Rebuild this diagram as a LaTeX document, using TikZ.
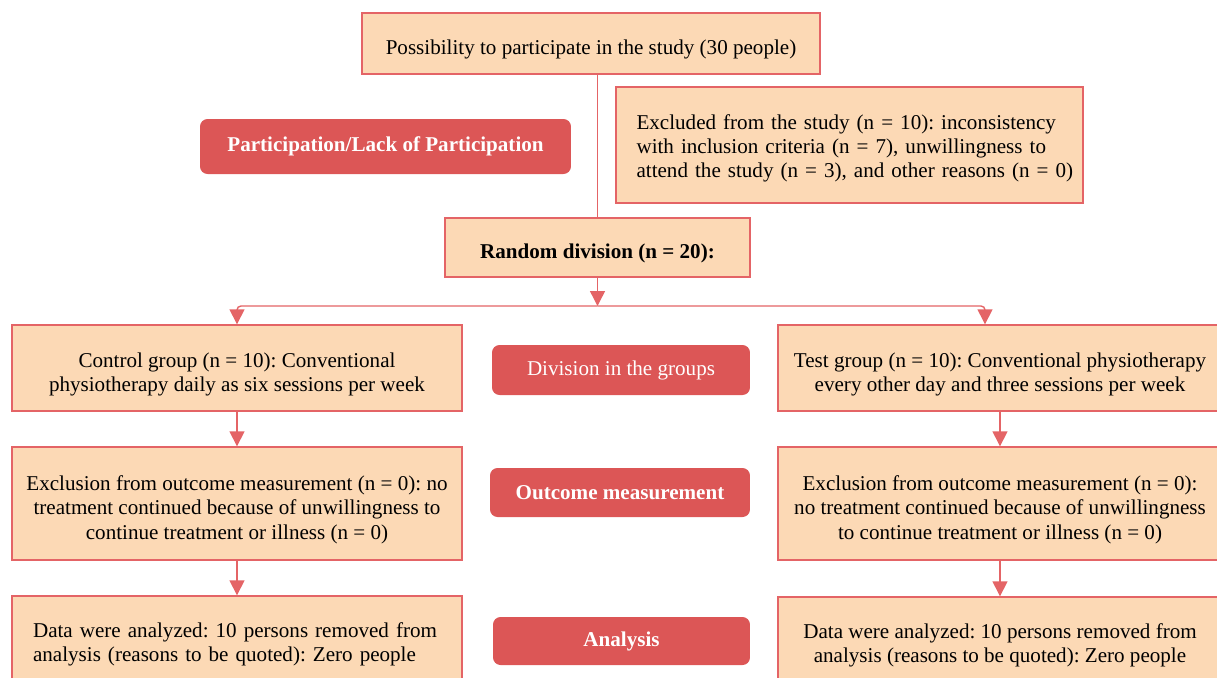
\documentclass[tikz,border=0pt]{standalone}
\usepackage{fontspec}
\setmainfont{Liberation Serif}
\usepackage{xcolor}
\usepackage{tikz}
\usetikzlibrary{arrows.meta}

\definecolor{peach}{RGB}{252,217,181}
\definecolor{edgered}{RGB}{228,100,102}
\definecolor{tagred}{RGB}{220,86,86}

\frenchspacing
\newcommand{\tallstrut}{\rule{0pt}{15.5pt}}
\newcommand{\shortstrut}{\rule{0pt}{12pt}}

\tikzset{
  stagebox/.style={draw=edgered, fill=peach, line width=0.8pt, inner sep=0pt, align=center,
    font=\fontsize{12}{13.8}\selectfont},
  tagbox/.style={fill=tagred, text=white, rounded corners=0.15cm, inner sep=0pt,
    font=\fontsize{12}{13.8}\selectfont},
  boldtext/.style={font=\fontsize{12}{13.8}\selectfont\bfseries},
  link/.style={draw=edgered, line width=0.8pt, -{Triangle[width=0.3cm,length=0.3cm]}},
}

\begin{document}
\begin{tikzpicture}[x=0.02cm, y=-0.02cm]

\path[use as bounding box, clip] (0,0) rectangle (1217,677);

% enrolment
\node[stagebox, minimum width=9.16cm, minimum height=1.22cm] (possible) at (591,43.5)
  {\tallstrut Possibility to participate in the study (30 people)};
\node[stagebox, minimum width=9.34cm, minimum height=2.32cm, text width=8.52cm, align=left] (excluded) at (849.5,145)
  {\shortstrut\makebox[8.52cm][s]{Excluded from the study (n = 10): inconsistency}\\
   \makebox[8.52cm][s]{with inclusion criteria (n = 7), unwillingness to}\\
   \makebox[8.52cm][s]{attend the study (n = 3), and other reasons (n = 0)}};
\node[tagbox, boldtext, minimum width=7.42cm, minimum height=1.1cm] (participation) at (385.5,146.5)
  {Participation/Lack of Participation};
\node[stagebox, boldtext, minimum width=6.1cm, minimum height=1.18cm] (random) at (597.5,247.5)
  {\tallstrut Random division (n = 20):};

\draw[edgered, line width=0.8pt] (random.north) -- (random.north |- possible.south);

% allocation
\coordinate (split) at (597.5,306);

\node[stagebox, minimum width=9cm, minimum height=1.72cm] (control) at (237,368)
  {\tallstrut Control group (n = 10): Conventional\\physiotherapy daily as six sessions per week};
\node[tagbox, minimum width=5.16cm, minimum height=1cm] (division) at (621,370)
  {Division in the groups};
\node[stagebox, minimum width=8.88cm, minimum height=1.72cm] (test) at (1000,368)
  {\tallstrut Test group (n = 10): Conventional physiotherapy\\every other day and three sessions per week};

\draw[link] (random) -- (split);
\draw[link, rounded corners=0.08cm] (split) -| (control.north);
\draw[link, rounded corners=0.08cm] (split) -| ([xshift=-0.3cm]test.north);

% follow-up
\node[stagebox, minimum width=9cm, minimum height=2.26cm] (exclleft) at (237,503.5)
  {\tallstrut Exclusion from outcome measurement (n = 0): no\\treatment continued because of unwillingness to\\continue treatment or illness (n = 0)};
\node[tagbox, boldtext, minimum width=5.2cm, minimum height=0.98cm] (outcome) at (620,492.5)
  {Outcome measurement};
\node[stagebox, minimum width=8.88cm, minimum height=2.26cm] (exclright) at (1000,503.5)
  {\tallstrut Exclusion from outcome measurement (n = 0):\\no treatment continued because of unwillingness\\to continue treatment or illness (n = 0)};

\draw[link] (control) -- (exclleft);
\draw[link] (test) -- (exclright);

% analysis
\node[stagebox, minimum width=9cm, minimum height=1.8cm, text width=8.16cm, align=left] (analysisleft) at (237,641)
  {\shortstrut\makebox[8.16cm][s]{Data were analyzed: 10 persons removed from}\\
   analysis (reasons to be quoted): Zero people};
\node[tagbox, boldtext, minimum width=5.14cm, minimum height=0.96cm] (analysis) at (621.5,641)
  {Analysis};
\node[stagebox, minimum width=8.88cm, minimum height=1.8cm] (analysisright) at (1000,642)
  {\shortstrut Data were analyzed: 10 persons removed from\\analysis (reasons to be quoted): Zero people};

\draw[link] (exclleft) -- (analysisleft);
\draw[link] (exclright) -- (analysisright);

\end{tikzpicture}
\end{document}
